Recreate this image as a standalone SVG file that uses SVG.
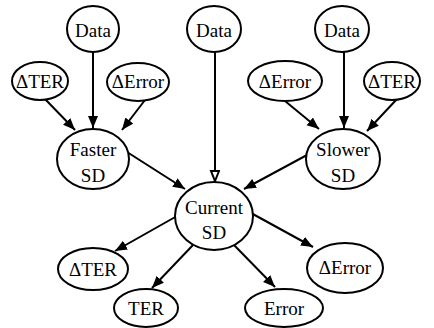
<svg xmlns="http://www.w3.org/2000/svg" width="434" height="328" viewBox="0 0 434 328">
<style>
.n ellipse{fill:#fff;stroke:#000;stroke-width:2}
.n text{font-family:"Liberation Serif","Times New Roman",serif;font-size:19px;fill:#000;text-anchor:middle}
.e line{stroke:#000;stroke-width:2}
</style>
<defs>
<marker id="ah" markerUnits="userSpaceOnUse" markerWidth="14" markerHeight="12" refX="12" refY="5" orient="auto"><path d="M0,0 L12,5 L0,10 Z" fill="#000"/></marker>
<marker id="ah2" markerUnits="userSpaceOnUse" markerWidth="14" markerHeight="12" refX="12" refY="5" orient="auto"><path d="M1,1 L11,5 L1,9 Z" fill="#fff" stroke="#000" stroke-width="2"/></marker>
</defs>
<rect width="434" height="328" fill="#fff"/>
<g class="e" id="connectors">
<line x1="93" y1="52" x2="93" y2="128" marker-end="url(#ah)"/>
<line x1="45" y1="99" x2="75" y2="130" marker-end="url(#ah)"/>
<line x1="145" y1="100" x2="122" y2="130" marker-end="url(#ah)"/>
<line x1="344" y1="52" x2="344" y2="128" marker-end="url(#ah)"/>
<line x1="285" y1="101" x2="319" y2="129" marker-end="url(#ah)"/>
<line x1="397" y1="99" x2="367" y2="131" marker-end="url(#ah)"/>
<line x1="215" y1="52" x2="215" y2="182" marker-end="url(#ah2)"/>
<line x1="127" y1="152" x2="185" y2="189" marker-end="url(#ah)"/>
<line x1="307" y1="155" x2="244" y2="189" marker-end="url(#ah)"/>
<line x1="177" y1="216" x2="115" y2="251" marker-end="url(#ah)"/>
<line x1="193" y1="245" x2="152" y2="288" marker-end="url(#ah)"/>
<line x1="234" y1="245" x2="275" y2="287" marker-end="url(#ah)"/>
<line x1="251" y1="213" x2="313" y2="247" marker-end="url(#ah)"/>
</g>
<g class="n" id="data-left"><ellipse cx="93" cy="29" rx="26" ry="23"/><text x="93" y="37">Data</text></g>
<g class="n" id="data-mid"><ellipse cx="214" cy="29" rx="27" ry="23"/><text x="214" y="37">Data</text></g>
<g class="n" id="data-right"><ellipse cx="342" cy="29" rx="27" ry="23"/><text x="342" y="37">Data</text></g>
<g class="n" id="dter-left"><ellipse cx="40" cy="81" rx="28" ry="19"/><text x="40" y="88">ΔTER</text></g>
<g class="n" id="derr-left"><ellipse cx="138" cy="82" rx="31" ry="19"/><text x="138" y="88">ΔError</text></g>
<g class="n" id="derr-right"><ellipse cx="285" cy="81" rx="37" ry="20"/><text x="285" y="88">ΔError</text></g>
<g class="n" id="dter-right"><ellipse cx="392" cy="81" rx="28" ry="19"/><text x="392" y="88">ΔTER</text></g>
<g class="n" id="faster"><ellipse cx="93" cy="159" rx="36" ry="30"/><text x="93" y="156">Faster</text><text x="93" y="182">SD</text></g>
<g class="n" id="slower"><ellipse cx="343" cy="159" rx="37" ry="30"/><text x="343" y="156">Slower</text><text x="343" y="182">SD</text></g>
<g class="n" id="current"><ellipse cx="214" cy="216" rx="39" ry="34"/><text x="214" y="214">Current</text><text x="214" y="239">SD</text></g>
<g class="n" id="dter-bottom"><ellipse cx="93" cy="269" rx="35" ry="21"/><text x="93" y="276">ΔTER</text></g>
<g class="n" id="ter"><ellipse cx="146" cy="308" rx="32" ry="19"/><text x="146" y="315">TER</text></g>
<g class="n" id="error"><ellipse cx="284" cy="308" rx="39" ry="19"/><text x="284" y="315">Error</text></g>
<g class="n" id="derr-bottom"><ellipse cx="345" cy="268" rx="38" ry="25"/><text x="345" y="274">ΔError</text></g>
</svg>
